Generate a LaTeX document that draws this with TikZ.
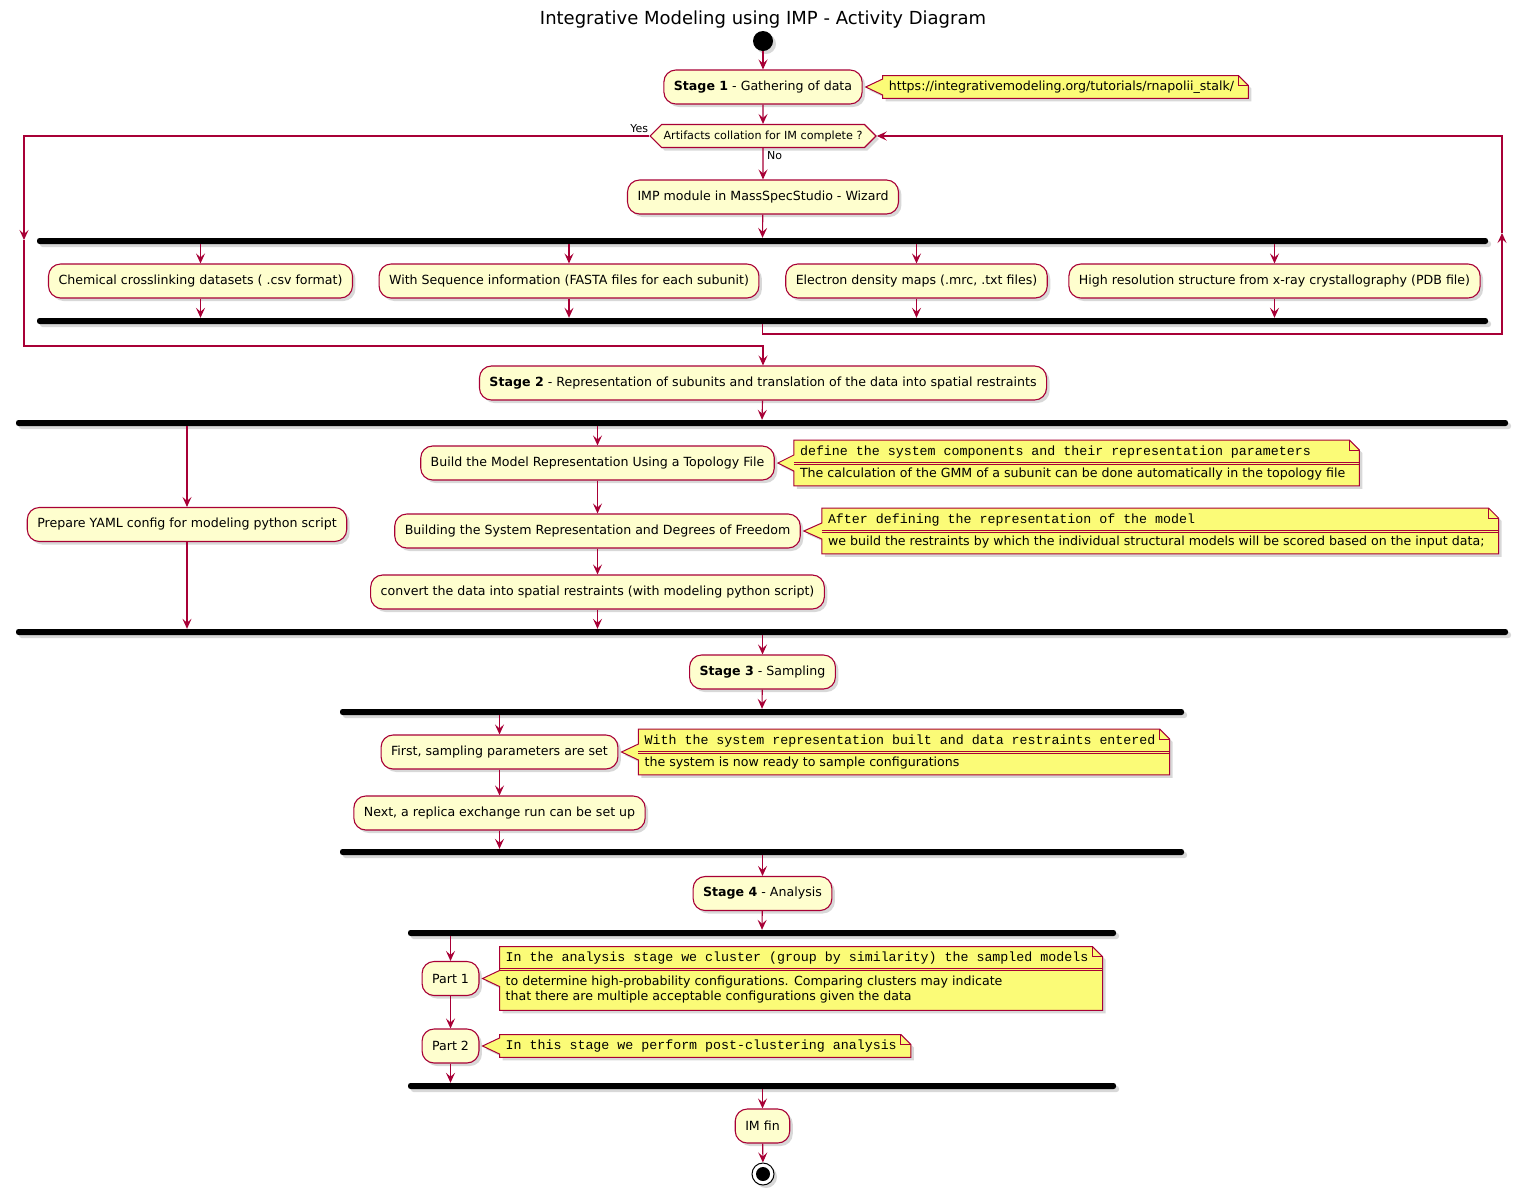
\documentclass[tikz,border=0pt]{standalone}
\usepackage{fontspec}
\setmainfont{DejaVu Sans}
\newfontfamily\notemono{Liberation Mono}
\usepackage{xcolor}
\usepackage{tikz}
\usetikzlibrary{positioning,calc,shapes.symbols,shapes.multipart,shadows,backgrounds,arrows.meta}
\definecolor{umlRed}{HTML}{A80036}
\definecolor{umlFill}{HTML}{FEFECE}
\definecolor{umlNote}{HTML}{FBFB77}
\tikzset{
    dropshade/.style={drop shadow={opacity=0.3, shadow xshift=3pt, shadow yshift=-3pt}},
    notebox/.style={draw=umlRed, line width=1pt, fill=umlNote, dropshade},
    notefold/.style={draw=umlRed, line width=1pt}
}
\newcommand{\notehead}{\notemono\fontsize{13.3}{15}\selectfont}
% note outline with its pointer towards an activity
\newcommand{\notepointer}[2]{%
    \begin{scope}[on background layer]
        \draw[notebox] (#1.north west) -- ($(#1.north east)+(-2,0)$) -- ($(#1.north east)+(8,10)$) -- ($(#1.south east)+(8,0)$) -- (#1.south west)
            -- ($(#1.west |- #2.east)+(0,8)$) -- ($(#2.east)+(3,0)$) -- ($(#1.west |- #2.east)+(0,-8)$) -- cycle;
        \draw[notefold] ($(#1.north east)+(-2,0)$) -- ($(#1.north east)+(-2,10)$) -- ($(#1.north east)+(8,10)$);
    \end{scope}}
\newcommand{\notedivide}[1]{%
    \draw[umlRed, line width=0.8pt] ($(#1.text split west)+(0,-1)$) -- ($(#1.text split east)+(8,-1)$);
    \draw[umlRed, line width=0.8pt] ($(#1.text split west)+(0,1)$) -- ($(#1.text split east)+(8,1)$);}

\begin{document}
\begin{tikzpicture}[x=1pt, y=-1pt,
        % activity boxes and fork bars
        act/.style={rectangle, rounded corners=12pt, draw=umlRed, line width=1.1pt, fill=umlFill,
            minimum height=34pt, inner xsep=10pt, font=\fontsize{12.6}{15}\selectfont, dropshade},
        bar/.style={rectangle, fill=black, rounded corners=2.5pt, minimum height=6pt, inner sep=0pt, dropshade},
        flow/.style={draw=umlRed, line width=1.1pt, -{Stealth[length=10pt, width=9pt, inset=4pt]}},
        lbl/.style={font=\fontsize{11}{13}\selectfont, inner sep=1pt},
        % notes
        notetext/.style={inner xsep=6pt, inner ysep=5pt, font=\fontsize{12.6}{15}\selectfont},
        notesplit/.style={rectangle split, rectangle split parts=2, rectangle split part align={left},
            inner xsep=6pt, inner ysep=5pt, font=\fontsize{12.6}{15}\selectfont}
    ]
    \begin{scope}[on background layer]
        \fill[white] (0,0) rectangle (1526,1195);
    \end{scope}
    \useasboundingbox (0,0) rectangle (1526,1195);

    \node[font=\fontsize{18}{21}\selectfont] (title) at (763,20) {Integrative Modeling using IMP - Activity Diagram};

    % --- Stage 1 ---
    \node[circle, fill=black, minimum size=20pt, inner sep=0pt, dropshade] (start) at (763,41) {};
    \node[act] (st1) at (763,87) {\textbf{Stage 1} - Gathering of data};
    \node[notetext, right=20pt of st1] (urlnote) {https://integrativemodeling.org/tutorials/rnapolii\_stalk/};
    \node[signal, signal to=east and west, signal pointer angle=90, draw=umlRed, line width=1.1pt, fill=umlFill,
        minimum height=23pt, inner xsep=2pt, inner ysep=4pt, font=\fontsize{11.2}{13}\selectfont, dropshade] (dec) at (763,136)
        {Artifacts collation for IM complete ?};
    \node[lbl, anchor=south east] (yes) at ($(dec.west)+(0,-2)$) {Yes};
    \node[lbl, anchor=north west] (no) at ($(dec.south)+(3,2)$) {No};
    \node[act] (imp) at (763,197) {IMP module in MassSpecStudio - Wizard};

    \node[bar, minimum width=1451pt] (fk1) at (762.5,241) {};
    \node[act] (chem) at (200.5,281) {Chemical crosslinking datasets ( .csv format)};
    \node[act] (seq) at (569,281) {With Sequence information (FASTA files for each subunit)};
    \node[act] (edm) at (916.5,281) {Electron density maps (.mrc, .txt files)};
    \node[act] (xray) at (1274.5,281) {High resolution structure from x-ray crystallography (PDB file)};
    \node[bar, minimum width=1451pt] (jn1) at (762.5,321) {};

    \draw[flow] (start) -- (st1);
    \draw[flow] (st1) -- (dec);
    \draw[flow] (dec) -- (imp);
    \draw[flow] (imp) -- (fk1.north);
    \foreach \b in {chem,seq,edm,xray} {
        \draw[flow] (fk1.south -| \b) -- (\b.north);
        \draw[flow] (\b.south) -- (\b |- jn1.north);
    }

    % --- Stage 2 ---
    \node[act] (st2) at (763,383) {\textbf{Stage 2} - Representation of subunits and translation of the data into spatial restraints};

    % loop back of the decision
    \coordinate (yesTop) at (24,136);
    \coordinate (yesMid) at (24,240);
    \coordinate (yesBot) at (24,346);
    \coordinate (noBot) at (1502,334);
    \coordinate (noMid) at (1502,233);
    \coordinate (noTop) at (1502,136);
    \draw[flow] (dec.west) -- (yesTop) -- (yesMid);
    \draw[flow] (yesMid) -- (yesBot) -| (st2.north);
    \draw[flow] (jn1.south) |- (noBot) -- (noMid);
    \draw[flow] (noMid) -- (noTop) -- (dec.east);

    \node[bar, minimum width=1492pt] (fk2) at (762,423) {};
    \node[act] (yaml) at (187,524.5) {Prepare YAML config for modeling python script};
    \node[act] (topo) at (597.5,463) {Build the Model Representation Using a Topology File};
    \node[notesplit, right=19pt of topo] (topnote)
        {{\notehead define the system components and their representation parameters}
        \nodepart{two} The calculation of the GMM of a subunit can be done automatically in the topology file};
    \node[act] (sysrep) at (597.5,531) {Building the System Representation and Degrees of Freedom};
    \node[notesplit, right=21pt of sysrep] (sysnote)
        {{\notehead After defining the representation of the model}
        \nodepart{two} we build the restraints by which the individual structural models will be scored based on the input data;};
    \node[act] (conv) at (597.5,592) {convert the data into spatial restraints (with modeling python script)};
    \node[bar, minimum width=1492pt] (jn2) at (762,632) {};

    \draw[flow] (st2) -- (fk2.north);
    \draw[flow] (fk2.south -| yaml) -- (yaml.north);
    \draw[flow] (yaml.south) -- (yaml |- jn2.north);
    \draw[flow] (fk2.south -| topo) -- (topo.north);
    \draw[flow] (topo) -- (sysrep);
    \draw[flow] (sysrep) -- (conv);
    \draw[flow] (conv.south) -- (conv |- jn2.north);

    % --- Stage 3 ---
    \node[act] (st3) at (762.5,672) {\textbf{Stage 3} - Sampling};
    \node[bar, minimum width=844pt] (fk3) at (762,712) {};
    \node[act] (par) at (499.5,752) {First, sampling parameters are set};
    \node[notesplit, right=20pt of par] (parnote)
        {{\notehead With the system representation built and data restraints entered}
        \nodepart{two} the system is now ready to sample configurations};
    \node[act] (rex) at (499.5,813) {Next, a replica exchange run can be set up};
    \node[bar, minimum width=844pt] (jn3) at (762,852) {};

    \draw[flow] (jn2.south -| st3) -- (st3.north);
    \draw[flow] (st3) -- (fk3.north);
    \draw[flow] (fk3.south -| par) -- (par.north);
    \draw[flow] (par) -- (rex);
    \draw[flow] (rex.south) -- (rex |- jn3.north);

    % --- Stage 4 ---
    \node[act] (st4) at (762.5,893.5) {\textbf{Stage 4} - Analysis};
    \node[bar, minimum width=708pt] (fk4) at (762,933) {};
    \node[act] (pt1) at (450.5,978.5) {Part 1};
    \node[notesplit, right=20pt of pt1] (pt1note)
        {{\notehead In the analysis stage we cluster (group by similarity) the sampled models}
        \nodepart{two} \begin{tabular}{@{}l@{}}to determine high-probability configurations. Comparing clusters may indicate\\
        that there are multiple acceptable configurations given the data\end{tabular}};
    \node[act] (pt2) at (450.5,1046) {Part 2};
    \node[notetext, right=20pt of pt2] (pt2note) {\notehead In this stage we perform post-clustering analysis};
    \node[bar, minimum width=708pt] (jn4) at (762,1086) {};
    \node[act] (fin) at (762.5,1126) {IM fin};
    \node[circle, draw=black, line width=1pt, fill=white, minimum size=22pt, inner sep=0pt, dropshade] (stop) at (763,1174) {};
    \node[circle, fill=black, minimum size=14pt, inner sep=0pt] (stopdot) at (stop) {};

    \draw[flow] (jn3.south -| st4) -- (st4.north);
    \draw[flow] (st4) -- (fk4.north);
    \draw[flow] (fk4.south -| pt1) -- (pt1.north);
    \draw[flow] (pt1) -- (pt2);
    \draw[flow] (pt2.south) -- (pt2 |- jn4.north);
    \draw[flow] (jn4.south -| fin) -- (fin.north);
    \draw[flow] (fin) -- (stop);

    % --- notes ---
    \notepointer{urlnote}{st1}
    \notepointer{topnote}{topo}
    \notepointer{sysnote}{sysrep}
    \notepointer{parnote}{par}
    \notepointer{pt1note}{pt1}
    \notepointer{pt2note}{pt2}
    \notedivide{topnote}
    \notedivide{sysnote}
    \notedivide{parnote}
    \notedivide{pt1note}
\end{tikzpicture}
\end{document}
